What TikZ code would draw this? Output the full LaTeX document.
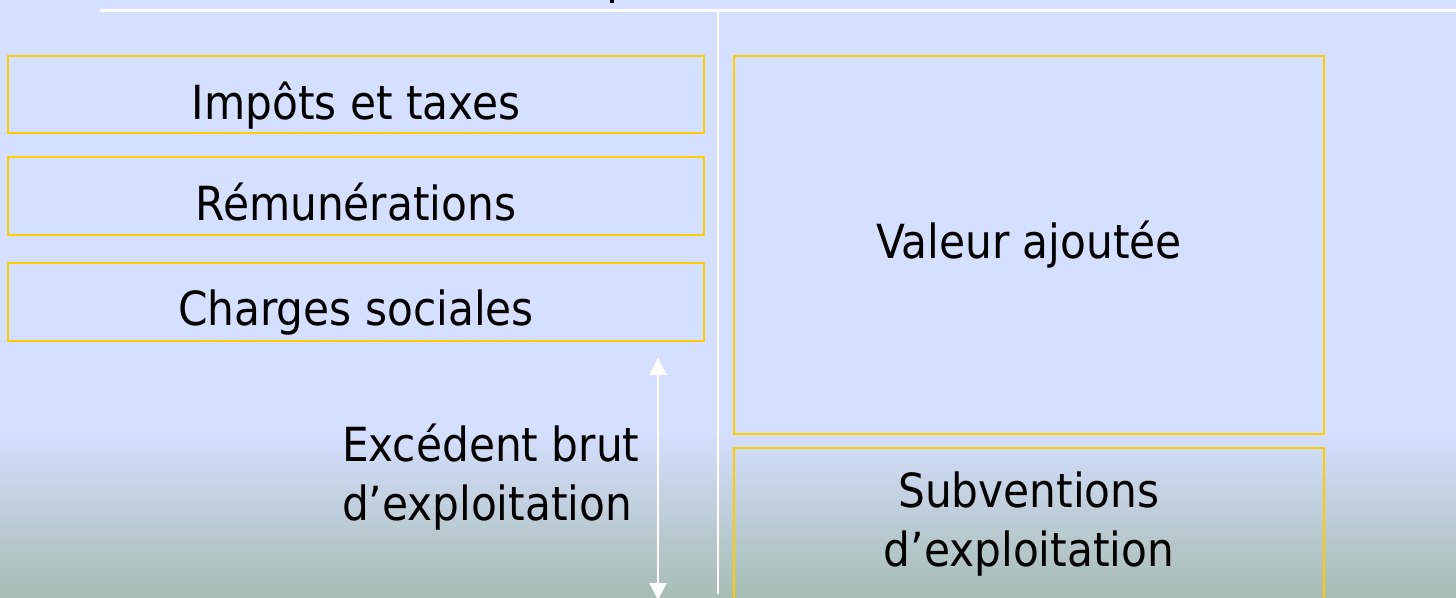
\documentclass[tikz,border=0pt]{standalone}
\usepackage{fontspec}
\setmainfont{DejaVu Sans Condensed}
\usetikzlibrary{arrows.meta}
\definecolor{sky}{HTML}{D5DFFF}
\definecolor{sage}{HTML}{A8BCB3}
\definecolor{gold}{HTML}{FFCC00}
\begin{document}
\begin{tikzpicture}[x=1pt,y=-1pt,
  frame/.style={draw=gold,line width=2.8pt,inner sep=0pt,outer sep=0pt,anchor=north west},
  caption/.style={inner sep=0pt,outer sep=0pt,anchor=base,font=\fontsize{47}{59}\selectfont},
  rule/.style={draw=white,line width=2.4pt}]
% background with the lower gradient band
\fill[sky] (0,0) rectangle (1456,597);
\useasboundingbox (0,0) rectangle (1456,597);
\clip (0,0) rectangle (1456,597);
\shade[top color=sky,bottom color=sage] (0,430) rectangle (1456,597);

% remnant of the heading above the rule
\fill[black] (610,0) rectangle (614,3);

% rules
\coordinate (hl) at (100,10.5);
\coordinate (hr) at (1456,10.5);
\coordinate (vt) at (718,11);
\coordinate (vb) at (718,594);
\draw[rule] (hl) -- (hr);
\draw[rule] (vt) -- (vb);

% left column
\node[frame,minimum width=696pt,minimum height=77pt] (tax) at (8,56) {};
\node[frame,minimum width=696pt,minimum height=78pt] (pay) at (8,157) {};
\node[frame,minimum width=696pt,minimum height=78pt] (soc) at (8,263) {};
\node[caption] (taxt) at (356,119) {Impôts et taxes};
\node[caption] (payt) at (356,220) {Rémunérations};
\node[caption] (soct) at (356,325) {Charges sociales};

% right column
\node[frame,minimum width=590pt,minimum height=378pt] (va) at (734,56) {};
\node[frame,minimum width=590pt,minimum height=180pt] (sub) at (734,448) {};
\node[caption] (vat) at (1029,258) {Valeur ajoutée};
\node[caption,align=center] (subt) at (1029,566) {Subventions\\d’exploitation};

% gross operating surplus
\coordinate (ebeup) at (658,358);
\coordinate (ebedn) at (658,600);
\draw[rule,line width=2pt,{Triangle[width=17pt,length=17pt]}-{Triangle[width=17pt,length=17pt]}] (ebeup) -- (ebedn);
\node[caption,align=left,anchor=base west] (ebet) at (342,520) {Excédent brut\\d’exploitation};
\end{tikzpicture}
\end{document}
